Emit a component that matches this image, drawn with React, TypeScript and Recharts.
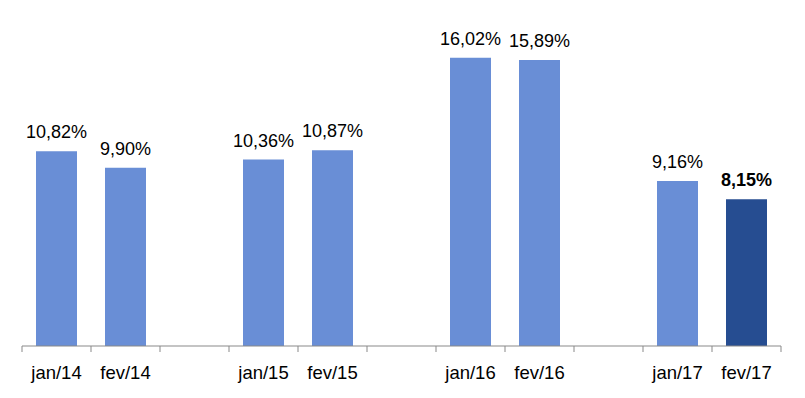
import { BarChart, Bar, XAxis, YAxis, Cell, LabelList } from "recharts";

const months = ["jan/14", "fev/14", "", "jan/15", "fev/15", "", "jan/16", "fev/16", "", "jan/17", "fev/17"];
const rates = [10.82, 9.9, null, 10.36, 10.87, null, 16.02, 15.89, null, 9.16, 8.15];
const highlight = "fev/17";

const data = months.map((m, i) => ({ month: m, rate: rates[i] }));

const font = "'Liberation Sans', Arial, sans-serif";
const fmt = (v: number) => v.toFixed(2).replace(".", ",") + "%";

function MonthTick(props: any) {
  const { x, y, payload, index } = props;
  const half = 34.5;
  const axisY = y - 8;
  return (
    <g>
      <line x1={x - half} y1={axisY} x2={x - half} y2={axisY + 6} stroke="#898989" />
      {index === months.length - 1 && (
        <line x1={x + half} y1={axisY} x2={x + half} y2={axisY + 6} stroke="#898989" />
      )}
      <text x={x} y={axisY + 33} textAnchor="middle" fill="#000" fontSize={18.5} fontFamily={font}>
        {payload.value}
      </text>
    </g>
  );
}

function ValueLabel(props: any) {
  const { x, y, width, value } = props;
  if (!value || value.rate == null) return null;
  const bold = value.month === highlight;
  return (
    <text
      x={x + width / 2}
      y={y - 13}
      textAnchor="middle"
      fill="#000"
      fontSize={18}
      fontWeight={bold ? "bold" : "normal"}
      fontFamily={font}
    >
      {fmt(value.rate)}
    </text>
  );
}

export default function App() {
  return (
    <div style={{ position: "absolute", left: 0, top: 0, background: "#fff" }}>
      <BarChart
        width={805}
        height={398}
        data={data}
        margin={{ top: 22, right: 24, bottom: 22, left: 22 }}
      >
        <XAxis
          dataKey="month"
          height={30}
          tickLine={false}
          tickSize={6}
          tickMargin={2}
          axisLine={{ stroke: "#898989" }}
          tick={<MonthTick />}
          interval={0}
        />
        <YAxis hide domain={[0, 18]} />
        <Bar dataKey="rate" barSize={41} isAnimationActive={false}>
          {data.map((d, i) => (
            <Cell key={i} fill={d.month === highlight ? "#264D91" : "#698ED6"} />
          ))}
          <LabelList dataKey={(d: any) => d} content={<ValueLabel />} />
        </Bar>
      </BarChart>
    </div>
  );
}
